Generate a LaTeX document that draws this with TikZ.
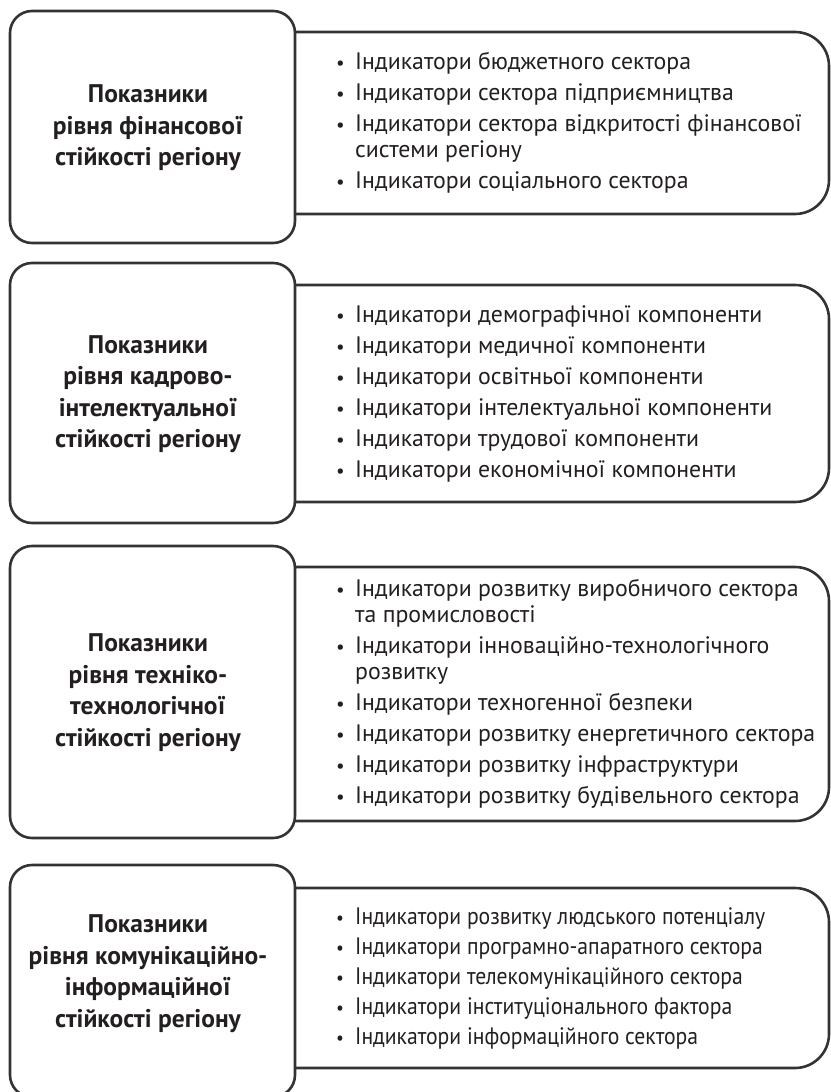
\documentclass[tikz,border=0pt]{standalone}
\usepackage{fontspec}
\setmainfont{PT Sans}
\newfontfamily\condfont{PT Sans}[FakeStretch=0.91]
\definecolor{ink}{HTML}{231F20}
\definecolor{frame}{HTML}{333333}
\newcommand{\bul}{\makebox[22pt][l]{\hspace*{3pt}\scalebox{0.8}{•}}}
\newcommand{\cnt}{\hspace*{22pt}}
\tikzset{
  leftbox/.style={draw=frame, line width=2.6pt, fill=white, rounded corners=22pt, minimum width=285pt, inner sep=0pt},
  rightframe/.style={draw=frame, line width=2.6pt, fill=white, rounded corners=34pt},
  titletext/.style={text=ink, align=center, inner sep=0pt, font=\fontsize{25.5}{31.5}\selectfont\bfseries},
  listtext/.style={text=ink, align=left, inner sep=0pt, anchor=west, font=\fontsize{23.8}{26}\selectfont}
}
\begin{document}
\begin{tikzpicture}[x=1pt,y=-1pt]
\useasboundingbox (0,0) rectangle (830,1092);
% ---------- box 1
\draw[rightframe] (280,32) -- (829,32) -- (829,214) -- (280,214);
\node[leftbox, minimum height=232pt] (L1) at (152.5,127) {};
\node[titletext] (T1) at (148,128) {Показники\\рівня фінансової\\стійкості регіону};
\node[listtext] (R1) at (333,123) {\bul Індикатори бюджетного сектора\\[5pt]
\bul Індикатори сектора підприємництва\\[5pt]
\bul Індикатори сектора відкритості фінансової\\
\cnt системи регіону\\[5pt]
\bul Індикатори соціального сектора};
% ---------- box 2
\draw[rightframe] (280,285) -- (829,285) -- (829,502) -- (280,502);
\node[leftbox, minimum height=260pt] (L2) at (152.5,393) {};
\node[titletext] (T2) at (148,394) {Показники\\рівня кадрово-\\інтелектуальної\\стійкості регіону};
\node[listtext] (R2) at (333,393.5) {\bul Індикатори демографічної компоненти\\[5pt]
\bul Індикатори медичної компоненти\\[5pt]
\bul Індикатори освітньої компоненти\\[5pt]
\bul Індикатори інтелектуальної компоненти\\[5pt]
\bul Індикатори трудової компоненти\\[5pt]
\bul Індикатори економічної компоненти};
% ---------- box 3
\draw[rightframe] (280,567) -- (829,567) -- (829,821) -- (280,821);
\node[leftbox, minimum height=292pt] (L3) at (152.5,692) {};
\node[titletext] (T3) at (148,692.5) {Показники\\рівня техніко-\\технологічної\\стійкості регіону};
\node[listtext] (R3) at (333,694) {\bul Індикатори розвитку виробничого сектора\\
\cnt та промисловості\\[5pt]
\bul Індикатори інноваційно-технологічного\\
\cnt розвитку\\[5pt]
\bul Індикатори техногенної безпеки\\[5pt]
\bul Індикатори розвитку енергетичного сектора\\[5pt]
\bul Індикатори розвитку інфраструктури\\[5pt]
\bul Індикатори розвитку будівельного сектора};
% ---------- box 4
\draw[rightframe] (280,888) -- (829,888) -- (829,1068) -- (280,1068);
\node[leftbox, minimum height=232pt] (L4) at (152.5,981) {};
\node[titletext] (T4) at (148,973.5) {Показники\\рівня комунікаційно-\\інформаційної\\стійкості регіону};
\node[listtext, font=\fontsize{23.8}{26}\selectfont\condfont] (R4) at (333,978) {\bul Індикатори розвитку людського потенціалу\\[4pt]
\bul Індикатори програмно-апаратного сектора\\[4pt]
\bul Індикатори телекомунікаційного сектора\\[4pt]
\bul Індикатори інституціонального фактора\\[4pt]
\bul Індикатори інформаційного сектора};
\end{tikzpicture}
\end{document}
